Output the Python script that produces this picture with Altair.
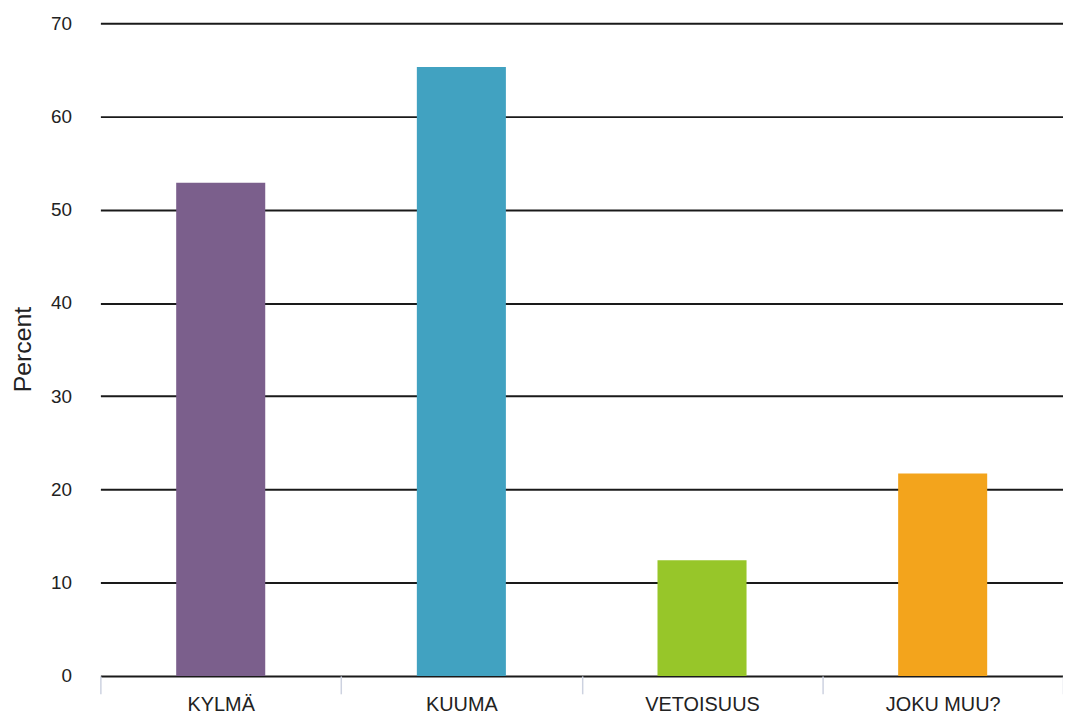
import altair as alt
import pandas as pd

categories = ["KYLMÄ", "KUUMA", "VETOISUUS", "JOKU MUU?"]
percents = [52.9, 65.3, 12.4, 21.7]
colors = ["#7b5f8c", "#41a2c1", "#97c629", "#f3a41c"]
y_ticks = [0, 10, 20, 30, 40, 50, 60, 70]

df = pd.DataFrame({"category": categories, "percent": percents})

FONT = "Liberation Sans"

chart = alt.Chart(df).mark_bar(width=alt.RelativeBandSize(0.37)).encode(
    x=alt.X(
        "category:N",
        sort=categories,
        title=None,
        scale=alt.Scale(paddingInner=0, paddingOuter=0),
        axis=alt.Axis(
            labelAngle=0,
            labelFont=FONT,
            labelFontSize=20,
            labelColor="#222222",
            labelPadding=1,
            domain=False,
            ticks=True,
            tickBand="extent",
            tickSize=18,
            tickColor="#cdd2e0",
            tickWidth=1.5,
            grid=False,
        ),
    ),
    y=alt.Y(
        "percent:Q",
        title="Percent",
        scale=alt.Scale(domain=[0, 70], nice=False),
        axis=alt.Axis(
            values=y_ticks,
            labelFont=FONT,
            labelFontSize=19,
            labelColor="#222222",
            labelPadding=29,
            ticks=False,
            domain=False,
            grid=True,
            gridColor="#1a1a1a",
            gridWidth=2,
            titleFont=FONT,
            titleFontSize=25,
            titleFontWeight="normal",
            titleColor="#222222",
            titleAngle=270,
            titleX=-78,
            titleY=328,
            titleBaseline="middle",
            titleAlign="center",
        ),
    ),
    color=alt.Color(
        "category:N",
        scale=alt.Scale(domain=categories, range=colors),
        legend=None,
    ),
).properties(
    width=969,
    height=657,
    background="white",
    autosize=alt.AutoSizeParams(type="none"),
    padding={"left": 93, "top": 13, "right": 0, "bottom": 40},
).configure_view(strokeWidth=0, stroke="transparent")

chart.save("out.html", embed_options={"renderer": "svg", "actions": False})
